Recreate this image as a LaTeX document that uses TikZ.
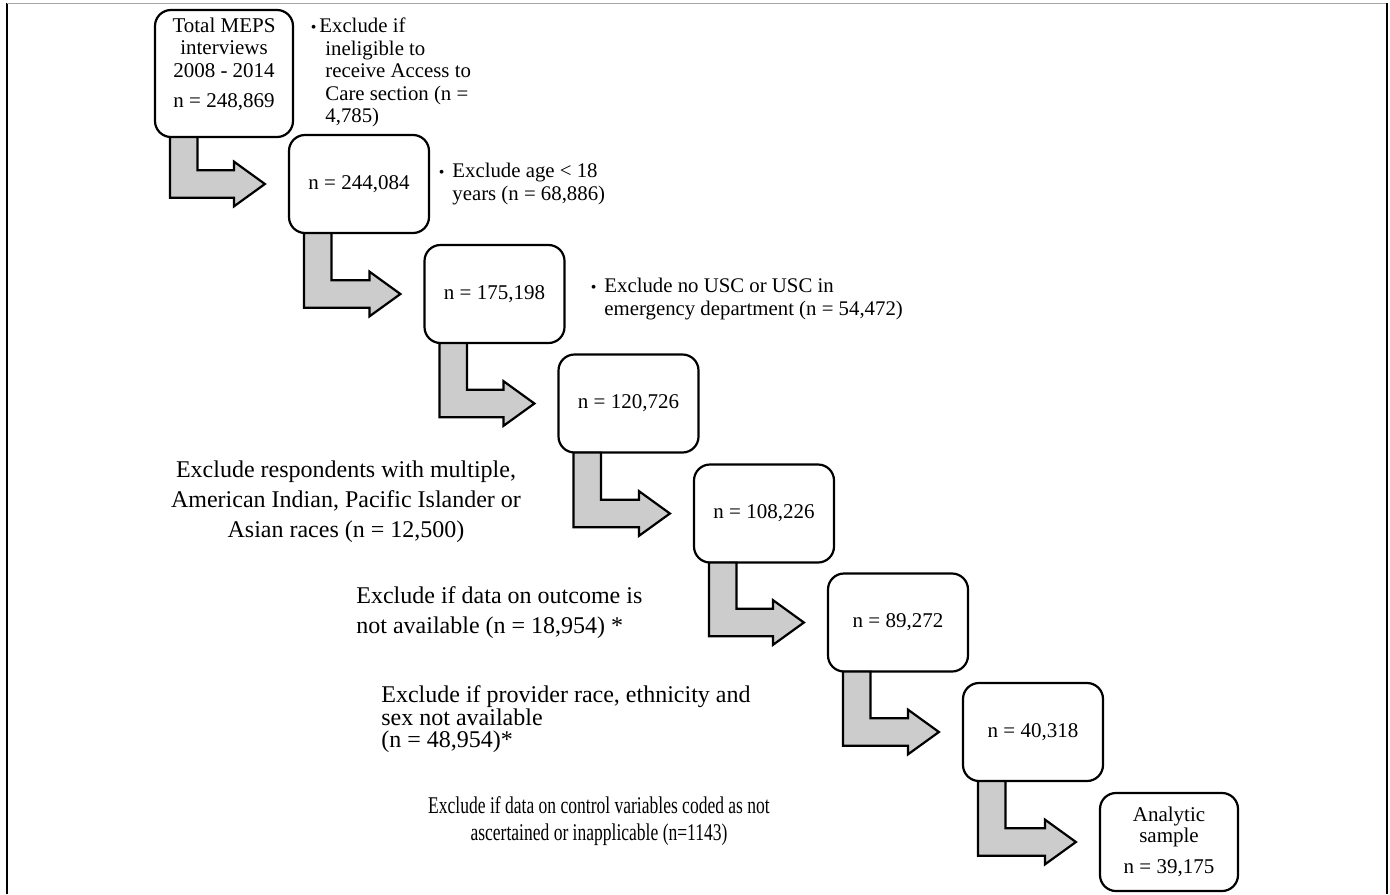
\documentclass[tikz,border=0pt]{standalone}
\usepackage{fontspec}
\setmainfont{Liberation Serif}
\usetikzlibrary{calc}
\tikzset{
  countbox/.style={draw, line width=1.1pt, rounded corners=8pt, fill=white,
    minimum width=70pt, minimum height=49pt, align=center, inner sep=2pt,
    font=\fontsize{10.5}{11.25}\selectfont},
  bentarrow/.style={draw, line width=1.1pt, fill=gray!40, line join=miter},
  bullettext/.style={anchor=north west, align=left, inner sep=0pt,
    font=\fontsize{10.4}{11.25}\selectfont},
  notetext/.style={inner sep=0pt, font=\fontsize{12}{15}\selectfont},
}
\newcommand{\bul}[1][4pt]{\leavevmode\llap{{\fontsize{8}{8}\selectfont\textbullet}\hspace{#1}}}
\newcommand{\bentarrow}[2]{%
  \draw[bentarrow] let \p1=(#1.south west), \p2=(#2.west) in
    (\x1+8pt,\y1+0.5pt) -- (\x1+21.75pt,\y1+0.5pt) -- (\x1+21.75pt,\y2+6.9pt)
    -- (\x2-27pt,\y2+6.9pt) -- (\x2-27pt,\y2+11.2pt) -- (\x2-11.5pt,\y2)
    -- (\x2-27pt,\y2-11.2pt) -- (\x2-27pt,\y2-6.9pt) -- (\x1+8pt,\y2-6.9pt) -- cycle;}

\begin{document}
\begin{tikzpicture}[x=0.5pt, y=-0.5pt]
    \useasboundingbox (0,0) rectangle (1390,894);
    \draw[line width=1pt] (7,3) -- (7,894);
    \draw[gray!70, line width=0.5pt] (7,3) -- (1387,3);
    \draw[line width=0.8pt] (1387,3) -- (1387,894);

    \node[countbox, minimum width=69pt, minimum height=63.5pt] (box1) at (224,73.5)
        {Total MEPS\\ interviews\\ 2008 - 2014\\[3.75pt] n = 248,869\rule[-11pt]{0pt}{11pt}};
    \node[countbox] (box2) at (359,184) {n = 244,084};
    \node[countbox] (box3) at (494.5,294) {n = 175,198};
    \node[countbox] (box4) at (628.5,403.5) {n = 120,726};
    \node[countbox] (box5) at (764,513.5) {n = 108,226};
    \node[countbox] (box6) at (898,622.5) {n = 89,272};
    \node[countbox] (box7) at (1033,732) {n = 40,318};
    \node[countbox, minimum width=69pt, font=\fontsize{10.5}{10.4}\selectfont] (box8) at (1169,842)
        {Analytic\\ sample\\[5pt] n = 39,175};

    \foreach \a/\b in {box1/box2, box2/box3, box3/box4, box4/box5, box5/box6, box6/box7, box7/box8}
        \bentarrow{\a}{\b};

    \node[bullettext] (excl1) at (325,17.8)
        {\hspace*{-3pt}\bul[1.5pt]Exclude if\\ ineligible to\\ receive Access to\\ Care section (n =\\ 4,785)};
    \node[bullettext] (excl2) at (452,162.8) {\bul Exclude age < 18\\ years (n = 68,886)};
    \node[bullettext] (excl3) at (604,277.8) {\bul Exclude no USC or USC in\\ emergency department (n = 54,472)};
    \node[notetext, anchor=north, align=center] (excl4) at (346,460.6)
        {Exclude respondents with multiple,\\ American Indian, Pacific Islander or\\ Asian races (n = 12,500)};
    \node[notetext, anchor=north west, align=left] (excl5) at (356,586.6)
        {Exclude if data on outcome is\\ not available (n = 18,954) *};
    \node[notetext, anchor=north west, align=left, font=\fontsize{12}{11.25}\selectfont] (excl6) at (381,685.6)
        {Exclude if provider race, ethnicity and\\ sex not available\\ (n = 48,954)*};
    \node[notetext, anchor=north, font=\fontsize{12}{13.5}\selectfont] (excl7) at (599,794.1)
        {\scalebox{0.73}[1]{\begin{tabular}{@{}c@{}}Exclude if data on control variables coded as not\\ ascertained or inapplicable (n=1143)\end{tabular}}};
\end{tikzpicture}
\end{document}
